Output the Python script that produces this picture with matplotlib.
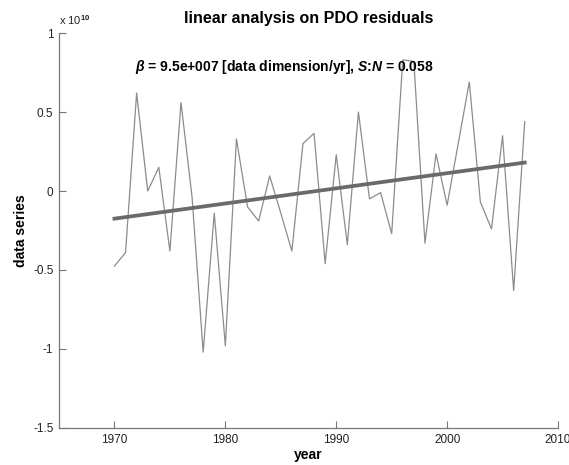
import numpy as np
import matplotlib
matplotlib.use("Agg")
import matplotlib.pyplot as plt

plt.rcParams['font.family'] = ['Liberation Sans', 'DejaVu Sans']
plt.rcParams['mathtext.fontset'] = 'custom'
plt.rcParams['mathtext.rm'] = 'Liberation Sans:bold'
plt.rcParams['mathtext.it'] = 'Liberation Sans:italic:bold'

# data (units of 1e10)
years = list(range(1970, 2008))
values = [-0.475, -0.39, 0.62, 0.0, 0.15, -0.38, 0.56, -0.04, -1.02, -0.14,
          -0.98, 0.33, -0.10, -0.19, 0.095, -0.14, -0.38, 0.30, 0.365, -0.46,
          0.23, -0.34, 0.50, -0.05, -0.01, -0.27, 0.83, 0.82, -0.33, 0.235,
          -0.09, 0.30, 0.69, -0.07, -0.24, 0.35, -0.63, 0.44]
trend_years = [1970, 2007]
trend_values = [-0.175, 0.18]

xticks = [1970, 1980, 1990, 2000, 2010]
yticks = [-1.5, -1, -0.5, 0, 0.5, 1]
ytick_labels = ['-1.5', '-1', '-0.5', '0', '0.5', '1']

fig = plt.figure(figsize=(5.69, 4.65), dpi=100)
ax = fig.add_axes([0.1037, 0.0796, 0.877, 0.8494])

ax.plot(years, values, color='#8c8c8c', lw=0.9)
ax.plot(trend_years, trend_values, color='#6a6a6a', lw=2.7)

ax.set_xlim(1965, 2010)
ax.set_ylim(-1.5, 1)
ax.set_xticks(xticks)
ax.set_yticks(yticks)
ax.set_yticklabels(ytick_labels)

for s in ['top', 'right']:
    ax.spines[s].set_visible(False)
for s in ['left', 'bottom']:
    ax.spines[s].set_color('#777777')
    ax.spines[s].set_linewidth(0.9)
ax.tick_params(direction='in', length=5, color='#777777', labelsize=8.5,
               labelcolor='#222222', pad=4)

ax.set_title('linear analysis on PDO residuals', fontsize=11.5,
             fontweight='bold', pad=7)
ax.set_xlabel('year', fontsize=10, fontweight='bold', labelpad=2)
ax.set_ylabel('data series', fontsize=10, fontweight='bold', labelpad=4)

ax.text(0.0, 1.015, r'x 10$^{10}$', transform=ax.transAxes, fontsize=8,
        ha='left', va='bottom', color='#222222')
ax.text(1971.85, 0.785,
        r'$\beta$ = 9.5e+007 [data dimension/yr], $S$:$N$ = 0.058',
        fontsize=10, fontweight='bold', ha='left', va='center')

fig.savefig('out.png', dpi=100)
